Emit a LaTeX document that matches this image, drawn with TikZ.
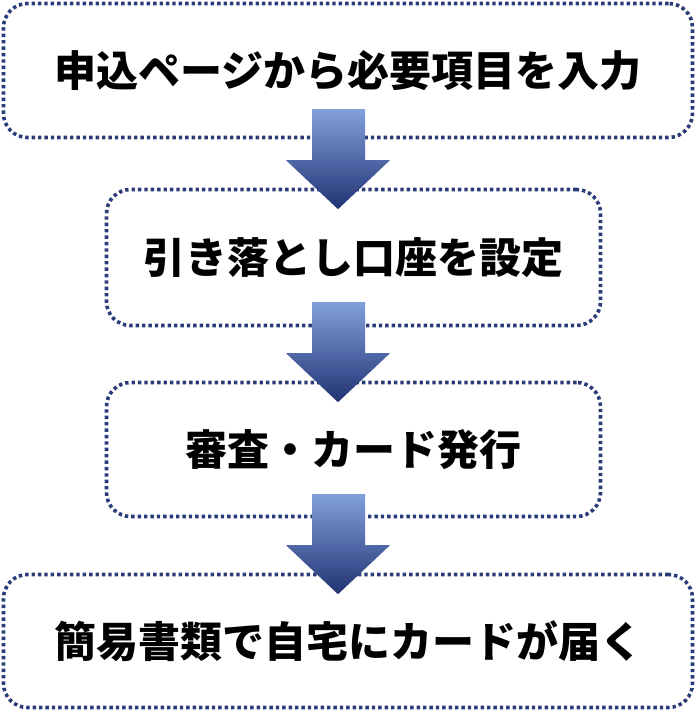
\documentclass[tikz,border=0pt]{standalone}
\usepackage{fontspec}
\newfontfamily\jp{Noto Sans CJK JP}
\usetikzlibrary{calc}
\definecolor{bordercol}{RGB}{42,60,120}
\definecolor{arrtop}{RGB}{130,160,220}
\definecolor{arrmid}{RGB}{60,95,190}
\definecolor{arrbot}{RGB}{32,50,115}
\tikzset{
  stepbox/.style={draw=bordercol, line width=3.6pt, dash pattern=on 3.4pt off 3pt,
    rounded corners=24pt, minimum width=#1, minimum height=135pt, inner sep=0pt,
    font=\jp\bfseries\fontsize{42}{48}\selectfont, text=black},
  arrowshade/.style={top color=arrtop, middle color=arrmid, bottom color=arrbot, draw=none}
}
\newcommand{\flowarrow}[1]{%
  \path[arrowshade, shift={(#1)}] (-26,-100) -- (27,-100) -- (27,-49) -- (52,-49) -- (0,0) -- (-52,-49) -- (-26,-49) -- cycle;}
\begin{document}
\begin{tikzpicture}[x=1pt,y=-1pt]
\useasboundingbox (0,0) rectangle (697,712);
\node[stepbox=689pt, minimum height=134pt] (b1) at (348,70.5) {申込ページから必要項目を入力};
\node[stepbox=494pt, minimum height=136pt] (b2) at (353.5,257.5) {引き落とし口座を設定};
\node[stepbox=494pt, minimum height=134pt] (b3) at (353.5,449.5) {審査・カード発行};
\node[stepbox=689pt, minimum height=133pt] (b4) at (348,641) {簡易書類で自宅にカードが届く};
\coordinate (t1) at ($(b2.north)+(-15.5,21.5)$);
\coordinate (t2) at ($(b3.north)+(-15.5,21.5)$);
\coordinate (t3) at ($(b4.north)+(-10,21.5)$);
\flowarrow{t1}
\flowarrow{t2}
\flowarrow{t3}
\end{tikzpicture}
\end{document}
